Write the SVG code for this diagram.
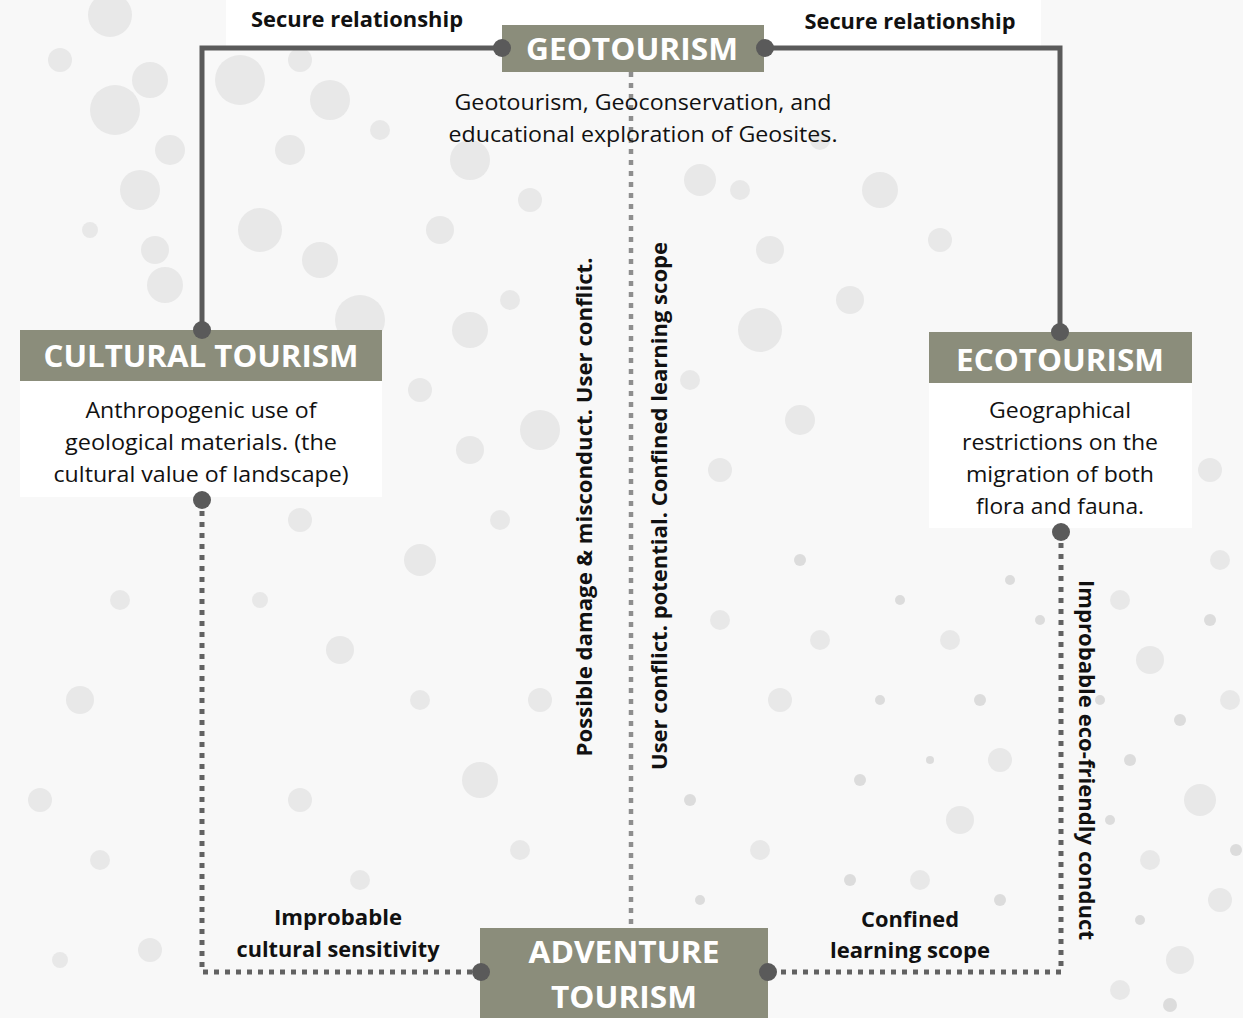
<svg xmlns="http://www.w3.org/2000/svg" width="1243" height="1018" viewBox="0 0 1243 1018">
<style>
.bgc{fill:#e8e8e8}
.bgd{fill:#dcdcdc}
.box{fill:#8b8d7b}
.wbg{fill:#ffffff}
.title{font-family:"Open Sans","Noto Sans",sans-serif;font-weight:700;font-size:31px;fill:#ffffff;text-anchor:middle}
.desc{font-family:"Open Sans","Noto Sans",sans-serif;font-size:22px;fill:#111111;text-anchor:middle}
.lbl{font-family:"Open Sans","Noto Sans",sans-serif;font-weight:700;font-size:21px;fill:#111111;text-anchor:middle}
.solid{fill:none;stroke:#5a5a5a;stroke-width:5}
.dot{fill:none;stroke:#626262;stroke-width:5;stroke-dasharray:5 6}
.dotc{fill:none;stroke:#8e8e8e;stroke-width:4.5;stroke-dasharray:5 6}
.pin{fill:#5a5a5a}
</style>
<g id="background">
<rect x="0" y="0" width="1243" height="1018" fill="#f8f8f8"/>
<g class="bgc">
<circle cx="110" cy="15" r="22"/><circle cx="60" cy="60" r="12"/><circle cx="150" cy="80" r="18"/><circle cx="115" cy="110" r="25"/><circle cx="170" cy="150" r="15"/><circle cx="140" cy="190" r="20"/><circle cx="90" cy="230" r="8"/><circle cx="155" cy="250" r="14"/><circle cx="165" cy="285" r="18"/><circle cx="240" cy="80" r="25"/><circle cx="300" cy="60" r="12"/><circle cx="330" cy="100" r="20"/><circle cx="290" cy="150" r="15"/><circle cx="380" cy="130" r="10"/><circle cx="260" cy="230" r="22"/><circle cx="320" cy="260" r="18"/><circle cx="360" cy="320" r="25"/><circle cx="440" cy="230" r="14"/><circle cx="470" cy="330" r="18"/><circle cx="420" cy="390" r="12"/><circle cx="510" cy="300" r="10"/><circle cx="530" cy="200" r="12"/><circle cx="470" cy="160" r="20"/><circle cx="700" cy="180" r="16"/><circle cx="740" cy="190" r="10"/><circle cx="770" cy="250" r="14"/><circle cx="820" cy="140" r="10"/><circle cx="880" cy="190" r="18"/><circle cx="940" cy="240" r="12"/><circle cx="850" cy="300" r="14"/><circle cx="760" cy="330" r="22"/><circle cx="690" cy="380" r="10"/><circle cx="800" cy="420" r="15"/><circle cx="720" cy="470" r="12"/><circle cx="540" cy="430" r="20"/><circle cx="470" cy="450" r="14"/><circle cx="500" cy="520" r="10"/><circle cx="420" cy="560" r="16"/><circle cx="300" cy="520" r="12"/><circle cx="260" cy="600" r="8"/><circle cx="340" cy="650" r="14"/><circle cx="420" cy="700" r="10"/><circle cx="480" cy="780" r="18"/><circle cx="540" cy="700" r="12"/><circle cx="520" cy="850" r="10"/><circle cx="300" cy="800" r="12"/><circle cx="360" cy="880" r="10"/><circle cx="120" cy="600" r="10"/><circle cx="80" cy="700" r="14"/><circle cx="40" cy="800" r="12"/><circle cx="100" cy="860" r="10"/><circle cx="150" cy="950" r="12"/><circle cx="60" cy="960" r="8"/>
<circle cx="950" cy="640" r="10"/><circle cx="1000" cy="760" r="12"/><circle cx="960" cy="820" r="14"/><circle cx="920" cy="880" r="10"/><circle cx="1120" cy="600" r="10"/><circle cx="1150" cy="660" r="14"/><circle cx="1200" cy="800" r="16"/><circle cx="1150" cy="860" r="10"/><circle cx="1220" cy="900" r="12"/><circle cx="1180" cy="960" r="14"/><circle cx="1120" cy="990" r="10"/><circle cx="1230" cy="700" r="10"/><circle cx="820" cy="640" r="10"/><circle cx="780" cy="700" r="12"/><circle cx="720" cy="620" r="10"/><circle cx="760" cy="850" r="10"/><circle cx="1210" cy="470" r="12"/><circle cx="1180" cy="420" r="8"/><circle cx="1220" cy="560" r="10"/>
</g>
<g class="bgd">
<circle cx="900" cy="600" r="5"/><circle cx="980" cy="700" r="6"/><circle cx="1000" cy="900" r="6"/><circle cx="1180" cy="720" r="6"/><circle cx="1210" cy="620" r="6"/><circle cx="1100" cy="700" r="5"/><circle cx="1130" cy="760" r="6"/><circle cx="880" cy="700" r="5"/><circle cx="860" cy="780" r="6"/><circle cx="800" cy="560" r="6"/><circle cx="690" cy="800" r="6"/><circle cx="700" cy="900" r="5"/><circle cx="850" cy="880" r="6"/><circle cx="1040" cy="620" r="5"/><circle cx="1110" cy="820" r="5"/><circle cx="1170" cy="1005" r="7"/><circle cx="1236" cy="850" r="6"/><circle cx="930" cy="760" r="4"/><circle cx="1010" cy="580" r="5"/><circle cx="1140" cy="920" r="5"/>
</g>
<rect x="226" y="0" width="815" height="46" fill="#ffffff"/>
</g>
<g id="connectors">
<path class="solid" d="M502,48 H202 V330"/>
<path class="solid" d="M765,48 H1060 V332"/>
<path class="dotc" d="M631,72 V928"/>
<path class="dot" d="M202,500 V972 H481"/>
<path class="dot" d="M1061,532 V972 H768"/>
</g>
<g id="geotourism">
<rect class="box" x="502" y="25" width="262" height="47"/>
<text class="title" x="632" y="60" textLength="212" lengthAdjust="spacingAndGlyphs">GEOTOURISM</text>
<text class="desc" x="643" y="110" textLength="377" lengthAdjust="spacingAndGlyphs">Geotourism, Geoconservation, and</text>
<text class="desc" x="643" y="142" textLength="389" lengthAdjust="spacingAndGlyphs">educational exploration of Geosites.</text>
</g>
<g id="cultural-tourism">
<rect class="box" x="20" y="330" width="362" height="51"/>
<rect class="wbg" x="20" y="381" width="362" height="116"/>
<text class="title" x="201" y="367" textLength="315" lengthAdjust="spacingAndGlyphs">CULTURAL TOURISM</text>
<text class="desc" x="201" y="418" textLength="231" lengthAdjust="spacingAndGlyphs">Anthropogenic use of</text>
<text class="desc" x="201" y="450" textLength="272" lengthAdjust="spacingAndGlyphs">geological materials. (the</text>
<text class="desc" x="201" y="482" textLength="295" lengthAdjust="spacingAndGlyphs">cultural value of landscape)</text>
</g>
<g id="ecotourism">
<rect class="box" x="929" y="332" width="263" height="51"/>
<rect class="wbg" x="929" y="383" width="263" height="145"/>
<text class="title" x="1060" y="371" textLength="208" lengthAdjust="spacingAndGlyphs">ECOTOURISM</text>
<text class="desc" x="1060" y="418" textLength="142" lengthAdjust="spacingAndGlyphs">Geographical</text>
<text class="desc" x="1060" y="450" textLength="196" lengthAdjust="spacingAndGlyphs">restrictions on the</text>
<text class="desc" x="1060" y="482" textLength="188" lengthAdjust="spacingAndGlyphs">migration of both</text>
<text class="desc" x="1060" y="514" textLength="168" lengthAdjust="spacingAndGlyphs">flora and fauna.</text>
</g>
<g id="adventure-tourism">
<rect class="box" x="480" y="928" width="288" height="90"/>
<text class="title" x="624" y="963" textLength="191" lengthAdjust="spacingAndGlyphs">ADVENTURE</text>
<text class="title" x="624" y="1008" textLength="146" lengthAdjust="spacingAndGlyphs">TOURISM</text>
</g>
<g id="pins">
<circle class="pin" cx="502" cy="48" r="9"/>
<circle class="pin" cx="765" cy="48" r="9"/>
<circle class="pin" cx="202" cy="330" r="9"/>
<circle class="pin" cx="1060" cy="332" r="9"/>
<circle class="pin" cx="202" cy="500" r="9"/>
<circle class="pin" cx="1061" cy="532" r="9"/>
<circle class="pin" cx="481" cy="972" r="9"/>
<circle class="pin" cx="768" cy="972" r="9"/>
</g>
<g id="labels">
<text class="lbl" x="357" y="27" textLength="212" lengthAdjust="spacingAndGlyphs">Secure relationship</text>
<text class="lbl" x="910" y="29" textLength="211" lengthAdjust="spacingAndGlyphs">Secure relationship</text>
<text class="lbl" transform="translate(592,507) rotate(-90)" x="0" y="0" textLength="499" lengthAdjust="spacingAndGlyphs">Possible damage &amp; misconduct. User conflict.</text>
<text class="lbl" transform="translate(667,506) rotate(-90)" x="0" y="0" textLength="528" lengthAdjust="spacingAndGlyphs">User conflict. potential. Confined learning scope</text>
<text class="lbl" transform="translate(1079,760) rotate(90)" x="0" y="0" textLength="360" lengthAdjust="spacingAndGlyphs">Improbable eco-friendly conduct</text>
<text class="lbl" x="338" y="925" textLength="128" lengthAdjust="spacingAndGlyphs">Improbable</text>
<text class="lbl" x="338" y="957" textLength="203" lengthAdjust="spacingAndGlyphs">cultural sensitivity</text>
<text class="lbl" x="910" y="927" textLength="98" lengthAdjust="spacingAndGlyphs">Confined</text>
<text class="lbl" x="910" y="958" textLength="160" lengthAdjust="spacingAndGlyphs">learning scope</text>
</g>
</svg>
